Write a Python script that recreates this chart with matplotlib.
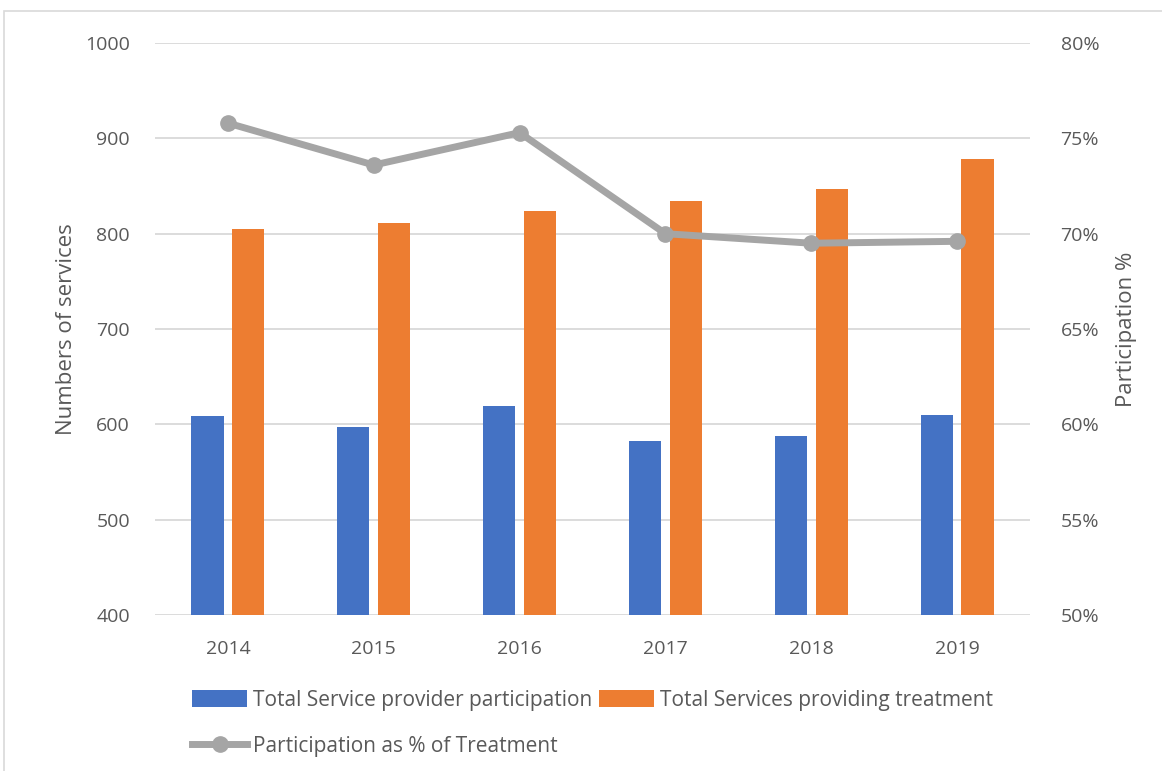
import matplotlib.pyplot as plt
import numpy as np
from matplotlib.patches import Rectangle
from matplotlib.lines import Line2D
from matplotlib.ticker import FuncFormatter

years = ["2014", "2015", "2016", "2017", "2018", "2019"]
participation = [609, 597, 619, 583, 588, 610]
treatment = [805, 811, 824, 834, 847, 878]
pct = [75.8, 73.6, 75.3, 70.0, 69.5, 69.6]

BLUE = "#4472c4"
ORANGE = "#ed7d31"
GREY = "#a5a5a5"
TEXT = "#595959"
GRID = "#d9d9d9"

plt.rcParams["font.family"] = ["Open Sans", "DejaVu Sans"]

fig = plt.figure(figsize=(11.62, 7.71), dpi=100)
ax = fig.add_axes([0.1334, 0.2023, 0.7530, 0.7419])
ax2 = ax.twinx()

x = np.arange(len(years))
w = 0.22
ax.bar(x - 0.14, participation, width=w, color=BLUE, zorder=3,
       label="Total Service provider participation")
ax.bar(x + 0.14, treatment, width=w, color=ORANGE, zorder=3,
       label="Total Services providing treatment")

ax.set_ylim(400, 1000)
ax.set_yticks(range(400, 1001, 100))
ax.set_xlim(-0.5, len(years) - 0.5)
ax.set_xticks(x)
ax.set_xticklabels(years)
ax.grid(True, axis="y", color=GRID, linewidth=1.3, zorder=0)
ax.set_ylabel("Numbers of services", fontsize=16, color=TEXT, labelpad=6)

ax2.plot(x, pct, color=GREY, linewidth=5, marker="o", markersize=11,
         zorder=4, label="Participation as % of Treatment")
ax2.set_ylim(50, 80)
ax2.set_yticks(range(50, 81, 5))
ax2.yaxis.set_major_formatter(FuncFormatter(lambda v, _: f"{v:.0f}%"))
ax2.set_ylabel("Participation %", fontsize=16, color=TEXT, labelpad=12)

for a in (ax, ax2):
    for s in a.spines.values():
        s.set_visible(False)
    a.tick_params(length=0, labelsize=14, colors=TEXT)
ax.tick_params(axis="y", pad=18)
ax2.tick_params(axis="y", pad=22)
ax.tick_params(axis="x", pad=18)

h1, l1 = ax.get_legend_handles_labels()
line_handle = Line2D([], [], color=GREY, linewidth=5, marker="o", markersize=11)
handles = [h1[0], line_handle, h1[1]]
labels = [l1[0], "Participation as % of Treatment", l1[1]]
fig.legend(handles, labels, ncol=2, loc="upper center",
           bbox_to_anchor=(0.51, 0.13), frameon=False, fontsize=15,
           labelcolor=TEXT, handlelength=2.6, handletextpad=0.3,
           columnspacing=0.35, labelspacing=1.2, handleheight=0.9)

fig.patches.append(Rectangle((0.0035, -0.01), 1.0, 0.9955, transform=fig.transFigure,
                             fill=False, edgecolor=GRID, linewidth=1.2))

fig.savefig("out.png", dpi=100, facecolor="white")
